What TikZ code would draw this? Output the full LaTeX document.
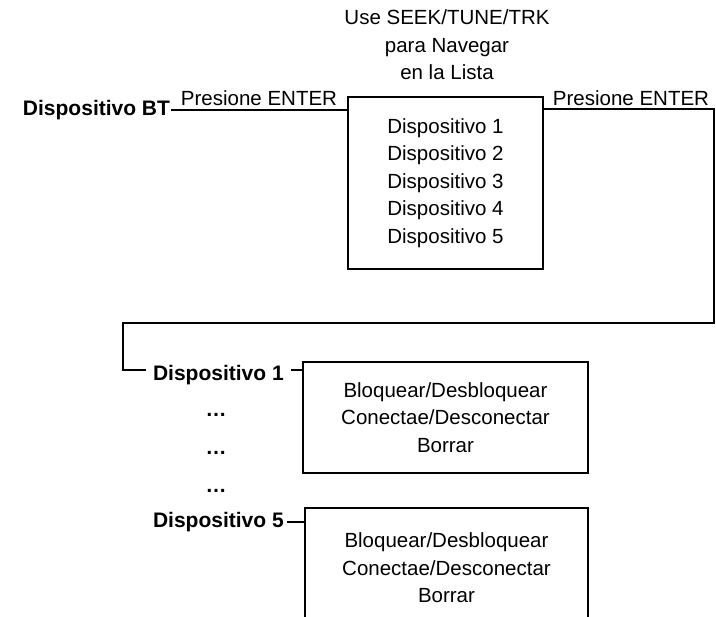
\documentclass[tikz,border=0pt]{standalone}
\usepackage{fontspec}
\setmainfont{Liberation Sans}

\begin{document}
\begin{tikzpicture}[x=1pt,y=-1pt,line width=1.2pt,
    txt/.style={font=\fontsize{20.5}{27.5}\selectfont, align=center, inner sep=0pt},
    lbl/.style={font=\fontsize{21}{27.5}\selectfont\bfseries, inner sep=0pt},
    menubox/.style={draw, txt}]
      \useasboundingbox (0,0) rectangle (716,617);
      \clip (0,0) rectangle (716,617);
      % list of devices
      \node[txt] (hint) at (447,45) {Use SEEK/TUNE/TRK\\para Navegar\\en la Lista};
      \node[menubox, minimum width=195pt, minimum height=172pt] (list) at (445.5,183)
        {Dispositivo 1\\Dispositivo 2\\Dispositivo 3\\Dispositivo 4\\Dispositivo 5};
      \node[lbl, anchor=base east, outer xsep=1pt] (bt) at (171,116) {Dispositivo BT};
      \node[txt, anchor=base] (enter1) at (259,106) {Presione ENTER};
      \node[txt, anchor=base] (enter2) at (631,106) {Presione ENTER};
      \draw (bt.east |- 0,110) -- (list.west |- 0,110);
      % options per device
      \node[lbl, anchor=base west, outer xsep=7pt] (dev1) at (146,381) {Dispositivo 1};
      \node[lbl, anchor=base west, outer xsep=3pt] (dev5) at (150,528) {Dispositivo 5};
      \foreach \y [count=\i] in {415,453,491}
        \node[lbl] (dots\i) at (216,\y) {…};
      \node[menubox, minimum width=285pt, minimum height=111pt] (opt1) at (445.5,417.5)
        {Bloquear/Desbloquear\\Conectae/Desconectar\\Borrar};
      \node[menubox, minimum width=283pt, minimum height=120pt] (opt5) at (446.5,568)
        {Bloquear/Desbloquear\\Conectae/Desconectar\\Borrar};
      \draw (list.east |- 0,109) -- (714,109) -- (714,323) -- (123,323) -- (123,370)
        -- (dev1.west |- 0,370);
      \draw (dev1.east |- 0,370) -- (opt1.west |- 0,370);
      \draw (dev5.east |- 0,522) -- (opt5.west |- 0,522);
    \end{tikzpicture}
\end{document}
